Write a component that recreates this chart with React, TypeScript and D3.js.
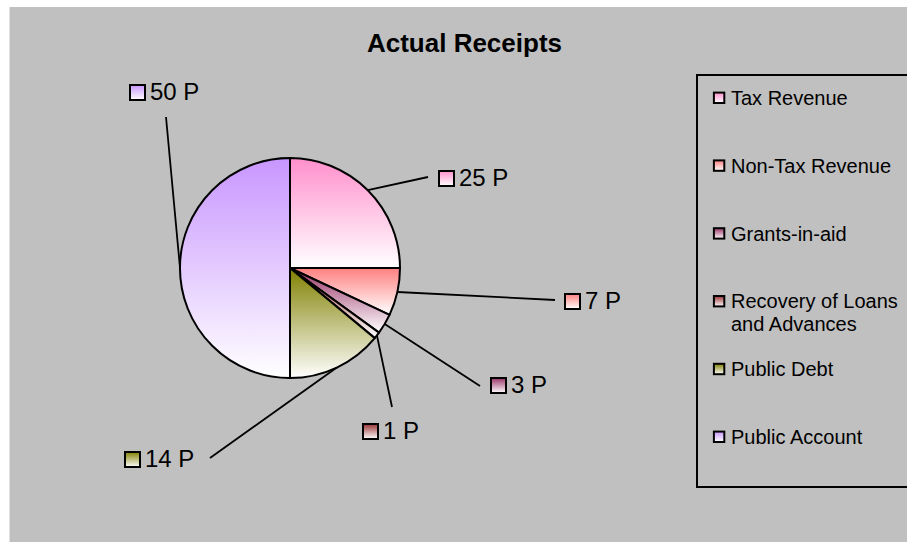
import React from "react";
import * as d3 from "d3";

// Receipts by head, in paise per rupee
const categories = [
  "Tax Revenue",
  "Non-Tax Revenue",
  "Grants-in-aid",
  "Recovery of Loans and Advances",
  "Public Debt",
  "Public Account",
];
const shares = [25, 7, 3, 1, 14, 50];
const shareLabels = ["25 P", "7 P", "3 P", "1 P", "14 P", "50 P"];
const legendLines = [
  ["Tax Revenue"],
  ["Non-Tax Revenue"],
  ["Grants-in-aid"],
  ["Recovery of Loans", "and Advances"],
  ["Public Debt"],
  ["Public Account"],
];

// Fill colours (each shaded down to white)
const sliceColors = ["#FF8FCC", "#FF8080", "#993366", "#993333", "#808000", "#C896FF"];

// Label placement: swatch top-left and where the leader line meets the label
const labelLayout = [
  { sx: 438, sy: 170, lx: 428, ly: 177 },
  { sx: 564, sy: 293, lx: 555, ly: 300 },
  { sx: 490, sy: 377, lx: 480, ly: 386 },
  { sx: 362, sy: 423, lx: 392, ly: 407 },
  { sx: 124, sy: 451, lx: 210, ly: 458 },
  { sx: 129, sy: 84, lx: 166, ly: 117 },
];

const W = 907;
const H = 542;
const CX = 290;
const CY = 268;
const R = 110;
const FONT = "'Liberation Sans', Arial, Helvetica, sans-serif";

export default function App() {
  const data = categories.map((name, i) => ({ name, value: shares[i], i }));
  const pie = d3.pie<any>().value((d) => d.value).sort(null);
  const arcs = pie(data);
  const arc = d3.arc<any>().innerRadius(0).outerRadius(R);
  const edge = d3.arc<any>().innerRadius(R).outerRadius(R);

  const legendX = 697;
  const legendBase = 105;
  const legendStep = 67.8;

  return (
    <svg
      width={W}
      height={H}
      style={{ position: "absolute", left: 0, top: 0, display: "block" }}
      fontFamily={FONT}
    >
      <defs>
        {sliceColors.map((c, i) => (
          <linearGradient key={i} id={`grad${i}`} x1="0" y1="0" x2="0" y2="1">
            <stop offset="0" stopColor={c} />
            <stop offset="1" stopColor="#FFFFFF" />
          </linearGradient>
        ))}
      </defs>
      <rect x={0} y={0} width={W} height={H} fill="#FFFFFF" />
      <rect x={9.5} y={7} width={W} height={H} fill="#C0C0C0" />

      <text
        x={464.5}
        y={52}
        textAnchor="middle"
        fontSize={26}
        fontWeight="bold"
        fill="#000"
      >
        Actual Receipts
      </text>

      <g transform={`translate(${CX},${CY})`}>
        {arcs.map((a, i) => (
          <path
            key={i}
            d={arc(a) as string}
            fill={`url(#grad${i})`}
            stroke="#000"
            strokeWidth={2}
            strokeLinejoin="round"
          />
        ))}
      </g>

      {arcs.map((a, i) => {
        const [ex, ey] = edge.centroid(a);
        const L = labelLayout[i];
        return (
          <g key={i}>
            <line
              x1={CX + ex}
              y1={CY + ey}
              x2={L.lx}
              y2={L.ly}
              stroke="#000"
              strokeWidth={1.8}
            />
            <rect
              x={L.sx + 1}
              y={L.sy + 1}
              width={15}
              height={15}
              fill={`url(#grad${i})`}
              stroke="#000"
              strokeWidth={2}
            />
            <text x={L.sx + 21} y={L.sy + 16} fontSize={24} fill="#000">
              {shareLabels[i]}
            </text>
          </g>
        );
      })}

      <rect
        x={legendX}
        y={75}
        width={260}
        height={412}
        fill="none"
        stroke="#000"
        strokeWidth={2}
      />
      {legendLines.map((lines, i) => {
        const base = legendBase + i * legendStep;
        return (
          <g key={i}>
            <rect
              x={713.9}
              y={base - 12.4}
              width={10.4}
              height={10.4}
              fill={`url(#grad${i})`}
              stroke="#000"
              strokeWidth={2}
            />
            <text x={731} y={base} fontSize={20} fill="#000">
              {lines.map((t, j) => (
                <tspan key={j} x={731} y={base + j * 22.5}>
                  {t}
                </tspan>
              ))}
            </text>
          </g>
        );
      })}
    </svg>
  );
}
